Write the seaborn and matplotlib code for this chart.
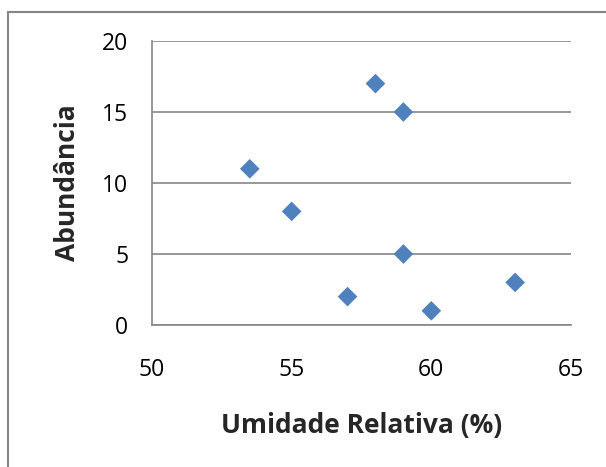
import matplotlib
matplotlib.use("Agg")
import matplotlib.pyplot as plt
from matplotlib.lines import Line2D
import seaborn as sns
import pandas as pd

# valores
umidade = [53.5, 55, 57, 58, 59, 59, 60, 63]
abundancia = [11, 8, 2, 17, 15, 5, 1, 3]
x_ticks = [50, 55, 60, 65]
y_ticks = [0, 5, 10, 15, 20]

df = pd.DataFrame({"Umidade Relativa (%)": umidade, "Abundância": abundancia})

sns.set_style("white")
plt.rcParams['font.family'] = ['Open Sans', 'DejaVu Sans']

cinza = "#868686"
azul = "#4F81BD"

fig = plt.figure(figsize=(6.06, 4.67), dpi=100)
ax = fig.add_axes([152 / 606, 1 - 325 / 467, 419 / 606, 284 / 467])

sns.scatterplot(data=df, x="Umidade Relativa (%)", y="Abundância", ax=ax,
                marker="D", s=100, color=azul, edgecolor="none", zorder=3)

ax.set_xlim(50, 65)
ax.set_ylim(0, 20)
ax.set_xticks(x_ticks)
ax.set_yticks(y_ticks)
ax.yaxis.grid(True, color=cinza, linewidth=1.2)
ax.xaxis.grid(False)
ax.set_axisbelow(True)

for lado in ["top", "right"]:
    ax.spines[lado].set_visible(False)
for lado in ["left", "bottom"]:
    ax.spines[lado].set_color(cinza)
    ax.spines[lado].set_linewidth(1.2)

ax.tick_params(axis="both", direction="out", length=6, width=1.2, color=cinza,
               labelsize=16.5, labelcolor="black")
ax.tick_params(axis="y", pad=11)
ax.tick_params(axis="x", pad=18)

ax.set_xlabel("Umidade Relativa (%)", fontsize=19, fontweight="bold", labelpad=21)
ax.set_ylabel("Abundância", fontsize=19, fontweight="bold", labelpad=15)

# moldura do gráfico (estilo Excel)
fig.add_artist(Line2D([8 / 606, 8 / 606], [0, 1 - 12 / 467], color=cinza, linewidth=1.5))
fig.add_artist(Line2D([8 / 606, 1], [1 - 12 / 467, 1 - 12 / 467], color=cinza, linewidth=1.5))

fig.savefig("out.png", dpi=100)
